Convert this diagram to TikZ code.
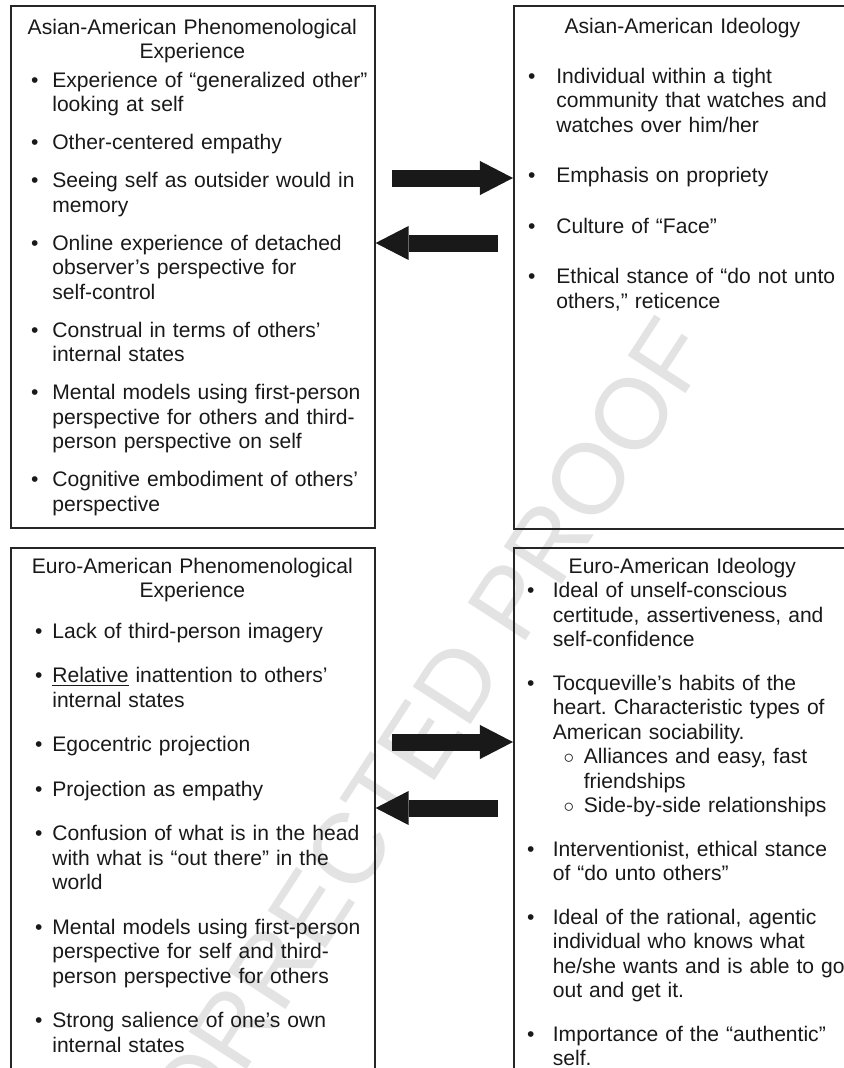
\documentclass[tikz,border=0pt]{standalone}
\usepackage{fontspec}
\setmainfont{Liberation Sans}
\usepackage{enumitem}
\usetikzlibrary{arrows.meta,positioning}

% one unit = one pixel of the figure
\newlength\pxu
\setlength\pxu{0.5693pt}

\newlist{points}{itemize}{2}
\setlist[points]{topsep=0pt,partopsep=0pt,parsep=0pt,itemsep=0pt}
\setlist[points,1]{label=\textbullet,leftmargin=42\pxu}
\setlist[points,2]{label=$\circ$,leftmargin=31\pxu,labelsep=9.7\pxu,itemsep=0pt}

\begin{document}
\begin{tikzpicture}[
  x=\pxu, y=-\pxu,
  panel/.style={draw=black!85, line width=1.6\pxu, anchor=north west, inner sep=0pt},
  body/.style={anchor=north west, inner sep=0pt, align=left, text=black!90,
               font=\fontsize{12}{13.95}\selectfont\frenchspacing},
  bigarrow/.style={draw=black!90, line width=17\pxu,
                   -{Triangle[length=18.8pt,width=19.4pt,line width=0pt]}},
  watermark/.style={text=black!11, font=\fontsize{57}{57}\selectfont, inner sep=0pt}
]
\useasboundingbox (0,0) rectangle (844,1068);
\clip (0,0) rectangle (844,1068);

% faint stamp behind everything
\node[watermark, rotate=57] (proof) at (409,757) {CORRECTED PROOF};

% the four panels
\node[panel, minimum width=364\pxu, minimum height=522\pxu] (aphen) at (10,5) {};
\node[panel, minimum width=338\pxu, minimum height=523\pxu] (aideo) at (513,5) {};
\node[panel, minimum width=364\pxu, minimum height=560\pxu] (ephen) at (10,547) {};
\node[panel, minimum width=338\pxu, minimum height=560\pxu] (eideo) at (513,547) {};

\node[body, text width=364\pxu, below right=13.6\pxu and 0pt of aphen.north west] (aphentxt) {%
{\centering Asian-American Phenomenological\\Experience\par}
\vspace{4\pxu}
\begin{points}[labelsep=13.8\pxu, itemsep=13.5\pxu]
\item Experience of “generalized other”\\looking at self
\item Other-centered empathy
\item Seeing self as outsider would in\\memory
\item Online experience of detached\\observer’s perspective for\\self-control
\item Construal in terms of others’\\internal states
\item Mental models using first-person\\perspective for others and third-\\person perspective on self
\item Cognitive embodiment of others’\\perspective
\end{points}};

\node[body, text width=338\pxu, below right=12.6\pxu and 0pt of aideo.north west] (aideotxt) {%
{\centering Asian-American Ideology\par}
\vspace{25.5\pxu}
\begin{points}[leftmargin=43\pxu, labelsep=20.8\pxu, itemsep=26\pxu]
\item Individual within a tight\\community that watches and\\watches over him/her
\item Emphasis on propriety
\item Culture of “Face”
\item Ethical stance of “do not unto\\others,” reticence
\end{points}};

\node[body, text width=364\pxu, below right=10.6\pxu and 0pt of ephen.north west] (ephentxt) {%
{\centering Euro-American Phenomenological\\Experience\par}
\vspace{16\pxu}
\begin{points}[labelsep=9.8\pxu, itemsep=20\pxu]
\item Lack of third-person imagery
\item \underline{Relative} inattention to others’\\internal states
\item Egocentric projection
\item Projection as empathy
\item Confusion of what is in the head\\with what is “out there” in the\\world
\item Mental models using first-person\\perspective for self and third-\\person perspective for others
\item Strong salience of one’s own\\internal states
\end{points}};

\node[body, text width=338\pxu, below right=10.6\pxu and 0pt of eideo.north west] (eideotxt) {%
{\centering Euro-American Ideology\par}
\begin{points}[leftmargin=39.5\pxu, labelsep=18.3\pxu, itemsep=19\pxu]
\item Ideal of unself-conscious\\certitude, assertiveness, and\\self-confidence
\item Tocqueville’s habits of the\\heart. Characteristic types of\\American sociability.
  \begin{points}
  \item Alliances and easy, fast\\friendships
  \item Side-by-side relationships
  \end{points}
\item Interventionist, ethical stance\\of “do unto others”
\item Ideal of the rational, agentic\\individual who knows what\\he/she wants and is able to go\\out and get it.
\item Importance of the “authentic”\\self.
\end{points}};

% block arrows between the panels
\coordinate (asR) at (392,178);
\coordinate (asL) at (498,243);
\coordinate (euR) at (392,742);
\coordinate (euL) at (498,808);
\draw[bigarrow] (asR) -- (asR -| aideo.west);
\draw[bigarrow] (asL) -- (asL -| aphen.east);
\draw[bigarrow] (euR) -- (euR -| eideo.west);
\draw[bigarrow] (euL) -- (euL -| ephen.east);
\end{tikzpicture}
\end{document}
